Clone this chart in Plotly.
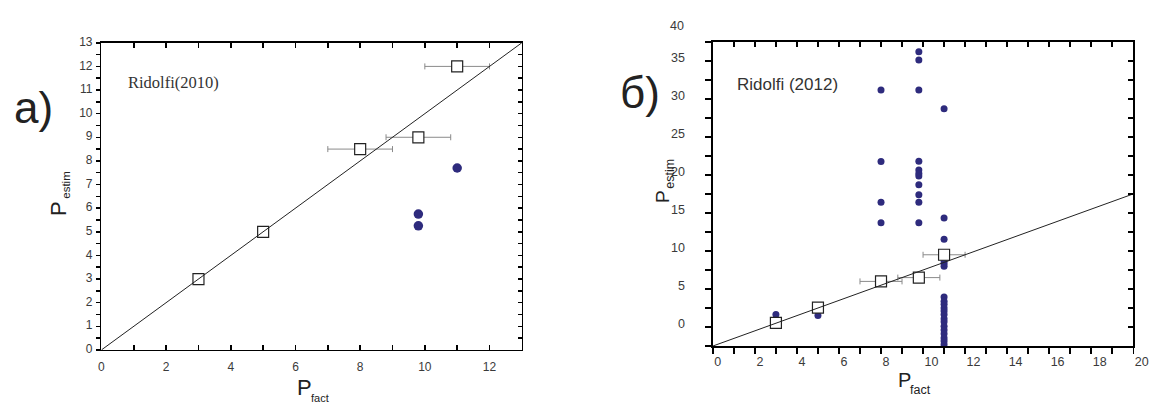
import plotly.graph_objects as go

# ---------------- data ----------------
# Panel а) Ridolfi (2010)
a_sq_x = [3, 5, 8, 9.8, 11]
a_sq_y = [3, 5, 8.5, 9, 12]
a_sq_xerr = [0, 0, 1, 1, 1]
a_dot_x = [9.8, 9.8, 11]
a_dot_y = [5.75, 5.25, 7.7]
a_line_x = [0, 13]
a_line_y = [0, 13]
a_xtick_labels = ["0", "2", "4", "6", "8", "10", "12"]
a_ytick_labels = [str(v) for v in range(14)]

# Panel б) Ridolfi (2012)
b_sq_x = [3, 5, 8, 9.8, 11]
b_sq_y = [3.05, 5.05, 8.5, 9.0, 12.0]
b_sq_xerr = [0, 0, 1, 1, 1]
b_dot_x = ([3, 5]
           + [8] * 4
           + [9.8] * 11
           + [11] * 20)
b_dot_y = ([4.15, 4.0]
           + [33.65, 24.25, 18.9, 16.2]
           + [38.7, 37.6, 33.65, 24.3, 23.15, 22.7, 22.35, 21.2, 19.9, 18.9, 16.2]
           + [31.2, 16.85, 14.05, 11.2, 10.85, 10.5,
              6.45, 5.9, 5.5, 5.0, 4.6, 4.15, 3.6, 3.2, 2.6, 2.1, 1.6, 1.05, 0.65, 0.2])
b_line_x = [0, 20]
b_line_y = [0, 20]
b_xtick_labels = ["0", "2", "4", "6", "8", "10", "12", "14", "16", "18", "20"]
b_ytick_labels = ["0", "5", "10", "15", "20", "25", "30", "35", "40"]

# ---------------- style ----------------
W, H = 1164, 410
OFF = 0          # body margin is removed by the post script
DOT = "#2e2b7d"
INK = "#000000"
TICKFONT = dict(family="Liberation Sans, Arial, sans-serif", size=12, color="#3a3a3a")
B_LABEL_OFFSET = 2.5   # tick labels of panel б sit half a tick step off their ticks


def PX(x):
    return (x - OFF) / W


def PY(y):
    return 1 - (y - OFF) / H


A_DOM_X = [PX(100), PX(527)]
A_DOM_Y = [PY(354), PY(36)]
B_DOM_X = [PX(721), PX(1148)]
B_DOM_Y = [PY(350), PY(35)]

fig = go.Figure()

# panel б traces
fig.add_trace(go.Scatter(x=b_dot_x, y=b_dot_y, mode="markers",
                         marker=dict(size=7, color=DOT, line=dict(width=0)),
                         xaxis="x", yaxis="y"))
fig.add_trace(go.Scatter(x=b_sq_x, y=b_sq_y, mode="markers",
                         marker=dict(symbol="square", size=11, color="white",
                                     line=dict(color="#222", width=1.2)),
                         error_x=dict(type="data", array=b_sq_xerr, color="#8a8a8a",
                                      thickness=1, width=3),
                         xaxis="x", yaxis="y"))
fig.add_trace(go.Scatter(x=b_line_x, y=b_line_y, mode="lines",
                         line=dict(color="#222", width=1), xaxis="x", yaxis="y"))
# empty trace carrying the top / right frame axes of panel б
fig.add_trace(go.Scatter(x=[], y=[], xaxis="x3", yaxis="y3", hoverinfo="skip"))

# panel а traces
fig.add_trace(go.Scatter(x=a_dot_x, y=a_dot_y, mode="markers",
                         marker=dict(size=9.5, color=DOT, line=dict(width=0)),
                         xaxis="x2", yaxis="y2"))
fig.add_trace(go.Scatter(x=a_sq_x, y=a_sq_y, mode="markers",
                         marker=dict(symbol="square", size=11, color="white",
                                     line=dict(color="#222", width=1.2)),
                         error_x=dict(type="data", array=a_sq_xerr, color="#8a8a8a",
                                      thickness=1, width=3),
                         xaxis="x2", yaxis="y2"))
fig.add_trace(go.Scatter(x=a_line_x, y=a_line_y, mode="lines",
                         line=dict(color="#222", width=1), xaxis="x2", yaxis="y2"))
# empty trace carrying the top / right frame axes of panel а
fig.add_trace(go.Scatter(x=[], y=[], xaxis="x4", yaxis="y4", hoverinfo="skip"))

axis_common = dict(showgrid=False, zeroline=False, showline=True, linecolor=INK,
                   linewidth=1.5, tickcolor=INK, tickwidth=1.5, tickfont=TICKFONT,
                   tickmode="array", ticklabelstandoff=1, ticklabelshift=0)

a_xvals = list(range(0, 14))
a_xtext = [a_xtick_labels[i // 2] if i % 2 == 0 else "" for i in a_xvals]
a_yvals = [0.5 * i for i in range(27)]
a_ytext = [a_ytick_labels[i // 2] if i % 2 == 0 else "" for i in range(27)]
b_xvals = list(range(0, 21))
b_xtext = [b_xtick_labels[i // 2] if i % 2 == 0 else "" for i in b_xvals]
b_yvals = [2.5 * i for i in range(17)]
b_ytext = [b_ytick_labels[(i - 1) // 2] if i % 2 == 1 else "" for i in range(17)]

fig.update_layout(
    width=W, height=H, margin=dict(l=0, r=0, t=0, b=0),
    paper_bgcolor="white", plot_bgcolor="white", showlegend=False,
    hovermode=False, dragmode=False,
    # panel б  (bottom / left)
    xaxis=dict(axis_common, domain=B_DOM_X, anchor="y", range=[0, 20], mirror=True,
               tickvals=b_xvals, ticktext=b_xtext,
               ticks="outside", ticklen=6, ticklabelposition="outside right",
               ticklabelstandoff=3, tickfont=dict(TICKFONT, size=12.5)),
    yaxis=dict(axis_common, domain=B_DOM_Y, anchor="x", range=[0, 40], mirror=True,
               tickvals=b_yvals, ticktext=b_ytext,
               ticks="outside", ticklen=6, ticklabelstandoff=18, ticklabelshift=-3,
               tickfont=dict(TICKFONT, size=12.5)),
    # panel б  (top / right, ticks pointing inward)
    xaxis3=dict(axis_common, overlaying="x", side="top", anchor="y3", range=[0, 20],
                tickvals=b_xvals, ticks="inside", ticklen=5, showticklabels=False,
                ticklabelposition="outside"),
    yaxis3=dict(axis_common, overlaying="y", side="right", anchor="x3", range=[0, 40],
                tickvals=b_yvals, ticks="inside", ticklen=5, showticklabels=False,
                ticklabelposition="outside"),
    # panel а  (bottom / left)
    xaxis2=dict(axis_common, domain=A_DOM_X, anchor="y2", range=[0, 13], mirror=True,
                tickvals=a_xvals, ticktext=a_xtext,
                ticks="inside", ticklen=5, ticklabelposition="outside",
                ticklabelstandoff=5),
    yaxis2=dict(axis_common, domain=A_DOM_Y, anchor="x2", range=[0, 13], mirror=True,
                tickvals=a_yvals, ticktext=a_ytext,
                ticks="outside", ticklen=4, ticklabelshift=-1),
    # panel а  (top / right, ticks pointing inward)
    xaxis4=dict(axis_common, overlaying="x2", side="top", anchor="y4", range=[0, 13],
                tickvals=a_xvals, ticks="inside", ticklen=5, showticklabels=False,
                ticklabelposition="outside"),
    yaxis4=dict(axis_common, overlaying="y2", side="right", anchor="x4", range=[0, 13],
                tickvals=a_yvals, ticks="inside", ticklen=4, showticklabels=False,
                ticklabelposition="outside"),
)

SANS = "Liberation Sans, Arial, sans-serif"
SERIF = "Liberation Serif, Times New Roman, serif"
ann = []


def note(text, x, y, size, family=SANS, xanchor="center", yanchor="middle",
         angle=0, color="#222"):
    ann.append(dict(text=text, x=x, y=y, xref="paper", yref="paper", showarrow=False,
                    xanchor=xanchor, yanchor=yanchor, textangle=angle,
                    font=dict(family=family, size=size, color=color)))


# panel labels
note("а)", PX(9), PY(103), 44, xanchor="left")
note("б)", PX(625), PY(88), 44, xanchor="left")
# inner titles
note("Ridolfi(2010)", PX(125), PY(77), 16.5, family=SERIF, xanchor="left", color="#333")
note("Ridolfi (2012)", PX(744), PY(79), 17, xanchor="left", color="#333")
# axis titles panel а
note("P", PX(306), PY(393), 22)
note("fact", PX(322), PY(404), 11)
note("P", PX(57), PY(208), 22, angle=-90)
note("estim", PX(64), PY(184), 11.5, angle=-90)
# axis titles panel б
note("P", PX(915.5), PY(385), 20)
note("fact", PX(932), PY(396), 12.5)
note("P", PX(670), PY(195), 19, angle=-90)
note("estim", PX(678), PY(172), 12.5, angle=-90)
# panel б top tick label standing above the frame (label offset applied to 40)
b_top_label_y = 350 - (40 + B_LABEL_OFFSET) * (350 - 35) / 40 + 3
note(b_ytick_labels[-1], PX(694), PY(b_top_label_y), 12.5, xanchor="right", color="#3a3a3a")

fig.update_layout(annotations=ann)

fig.write_html("out.html", config={"displayModeBar": False, "staticPlot": True},
               post_script="document.body.style.margin='0px';")
